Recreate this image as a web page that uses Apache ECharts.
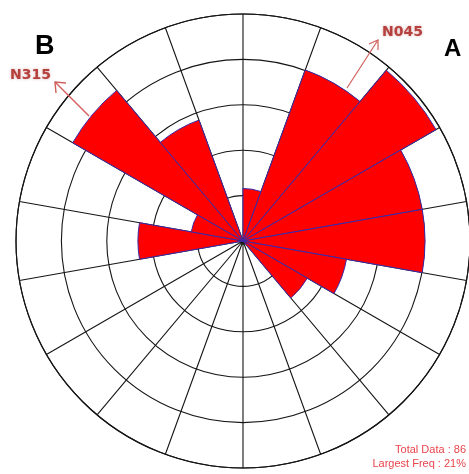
<!DOCTYPE html>
<html>
<head>
<meta charset="utf-8">
<script src="https://cdn.jsdelivr.net/npm/echarts@6/dist/echarts.min.js"></script>
<style>
  html, body { margin: 0; padding: 0; background: #ffffff; }
  #rose { width: 469px; height: 474px; }
</style>
</head>
<body>
<div id="rose"></div>
<script>
// Azimuth bins, 20 degrees each, starting at north and running clockwise
const binLabels = ['000', '020', '040', '060', '080', '100', '120', '140', '160',
                   '180', '200', '220', '240', '260', '280', '300', '320', '340'];
// Number of measurements that fall in each bin
const binCounts = [1, 12, 18, 12, 12, 4, 2, 0, 0, 0, 0, 0, 0, 4, 1, 14, 6, 0];
const totalData = 86;
const largestFreq = 21;

// Equal-area rose: petal length grows with the square root of the count
const petalLength = binCounts.map(c => (c > 0 ? Math.sqrt(c) : null));
const ringMax = 4.32;
const ringStep = ringMax / 5;

const chart = echarts.init(document.getElementById('rose'), null, { renderer: 'canvas' });

const arrowColor = '#d0605c';
const labelColor = '#b5403d';

chart.setOption({
  animation: false,
  backgroundColor: '#ffffff',
  polar: {
    center: [243, 241],
    radius: 227
  },
  angleAxis: {
    type: 'category',
    data: binLabels,
    startAngle: 90,
    clockwise: true,
    boundaryGap: true,
    axisLine: { show: true, lineStyle: { color: '#151515', width: 1.1 } },
    axisTick: { show: false },
    axisLabel: { show: false },
    splitLine: { show: true, lineStyle: { color: '#151515', width: 1.1 } },
    z: 1
  },
  radiusAxis: {
    type: 'value',
    min: 0,
    max: ringMax,
    interval: ringStep,
    axisLine: { show: false },
    axisTick: { show: false },
    axisLabel: { show: false },
    splitLine: { show: true, lineStyle: { color: '#151515', width: 1.1 } }
  },
  series: [{
    type: 'bar',
    coordinateSystem: 'polar',
    data: petalLength,
    barCategoryGap: '0%',
    itemStyle: {
      color: '#ff0000',
      borderColor: '#3a2aa8',
      borderWidth: 1
    },
    z: 3
  }],
  graphic: [
    // N045 direction arrow
    { type: 'line', shape: { x1: 347, y1: 88, x2: 378, y2: 40 },
      style: { stroke: arrowColor, lineWidth: 1.2 }, z: 10 },
    { type: 'polyline', shape: { points: [[369, 44], [378, 40], [378, 50]] },
      style: { stroke: arrowColor, lineWidth: 1.2, fill: null }, z: 10 },
    // N315 direction arrow
    { type: 'line', shape: { x1: 89, y1: 116, x2: 55, y2: 82 },
      style: { stroke: arrowColor, lineWidth: 1.4 }, z: 10 },
    { type: 'polyline', shape: { points: [[56, 93], [55, 82], [66, 83]] },
      style: { stroke: arrowColor, lineWidth: 1.4, fill: null }, z: 10 },
    { type: 'text', left: 382, top: 25, z: 10,
      style: { text: 'N045', fill: labelColor, font: 'bold 14px "DejaVu Sans"',
               textShadowColor: 'rgba(170,70,70,0.45)', textShadowBlur: 3 } },
    { type: 'text', left: 10, top: 68, z: 10,
      style: { text: 'N315', fill: labelColor, font: 'bold 14px "DejaVu Sans"',
               textShadowColor: 'rgba(170,70,70,0.45)', textShadowBlur: 3 } },
    { type: 'text', left: 35, top: 33, z: 10,
      style: { text: 'B', fill: '#000000', font: 'bold 27px "Liberation Sans"' } },
    { type: 'text', left: 444, top: 37, z: 10,
      style: { text: 'A', fill: '#000000', font: 'bold 24px "Liberation Sans"' } },
    { type: 'text', right: 3, top: 444, z: 10,
      style: { text: 'Total Data : ' + totalData, fill: '#e8454c',
               font: '11px "Liberation Sans"', align: 'right' } },
    { type: 'text', right: 3, top: 458, z: 10,
      style: { text: 'Largest Freq : ' + largestFreq + '%', fill: '#e8454c',
               font: '11px "Liberation Sans"', align: 'right' } }
  ]
});
</script>
</body>
</html>
